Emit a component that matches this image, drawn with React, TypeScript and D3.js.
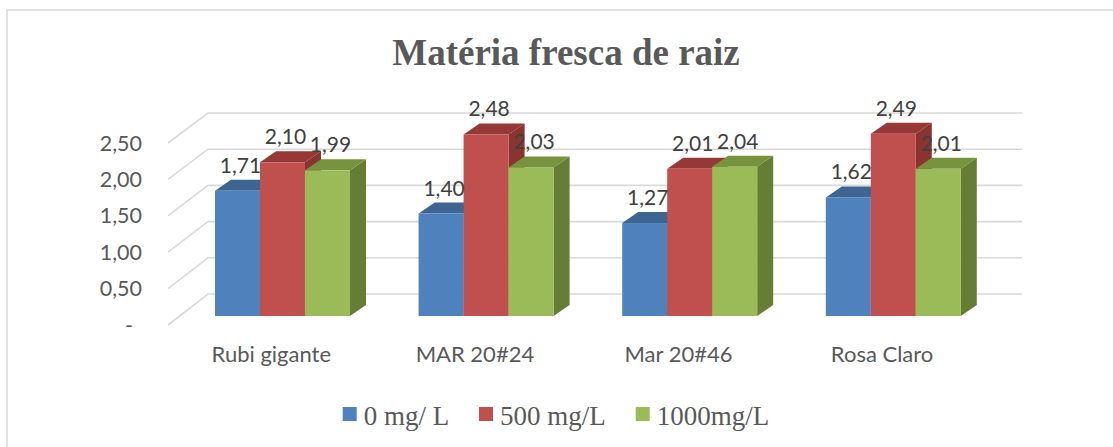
import React from "react";
import * as d3 from "d3";

const categories = ["Rubi gigante", "MAR 20#24", "Mar 20#46", "Rosa Claro"];
const seriesNames = ["0 mg/ L", "500 mg/L", "1000mg/L"];
const values0 = [1.71, 1.4, 1.27, 1.62];
const values500 = [2.1, 2.48, 2.01, 2.49];
const values1000 = [1.99, 2.03, 2.04, 2.01];
const yTicks = [0, 0.5, 1, 1.5, 2, 2.5];
const yTickLabels = ["-", "0,50", "1,00", "1,50", "2,00", "2,50"];

const seriesValues = [values0, values500, values1000];
const colors = [
  { front: "#4F81BD", top: "#3C6592", side: "#375C87" },
  { front: "#C0504D", top: "#953836", side: "#8A3432" },
  { front: "#9BBB59", top: "#77933D", side: "#667D36" },
];

const fmt = (v: number) => v.toFixed(2).replace(".", ",");

export default function App() {
  const W = 1113;
  const H = 447;
  const backX0 = 208, backX1 = 1022;
  const yBack = d3.scaleLinear().domain([0, 2.5]).range([294, 113]);
  const yFront = d3.scaleLinear().domain([0, 2.5]).range([325, 143]);
  const frontX = 168;
  const yBar = d3.scaleLinear().domain([0, 2.5]).range([316, 316 - 2.5 * 73.2]);
  const xCat = d3.scaleBand().domain(categories).range([180.7, 180.7 + 4 * 203.6]);
  const groupW = 135;
  const xSer = d3.scaleBand().domain(seriesNames).range([0, groupW]);
  const dx = 16, dy = -11;
  const labelCat = d3.scaleBand().domain(categories).range([169.5, 169.5 + 4 * 203.6]);

  const textColor = "#595959";
  const sans = "Lato, 'Open Sans', sans-serif";
  const serif = "'Liberation Serif', 'Times New Roman', serif";

  return (
    <svg width={W} height={H} style={{ display: "block", position: "absolute", left: 0, top: 0 }}>
      <rect x={0} y={0} width={W} height={H} fill="#fff" />
      <rect x={7} y={10} width={1130} height={460} fill="#fff" stroke="#d9d9d9" strokeWidth={1.5} />
      <text x={566} y={65} textAnchor="middle" fontFamily={serif} fontWeight="bold" fontSize={37} fill={textColor}>
        Matéria fresca de raiz
      </text>
      {yTicks.map((t, i) => (
        <g key={i}>
          <polyline
            points={`${frontX},${yFront(t)} ${backX0},${yBack(t)} ${backX1},${yBack(t)}`}
            fill="none"
            stroke="#d9d9d9"
            strokeWidth={1.6}
          />
          <text
            x={i === 0 ? 133 : 142}
            y={yFront(t)}
            dy="0.35em"
            textAnchor="end"
            fontFamily={sans}
            fontSize={21.5}
            fill={textColor}
          >
            {yTickLabels[i]}
          </text>
        </g>
      ))}
      {categories.map((c, ci) => {
        const gx = (xCat(c) as number) + (xCat.bandwidth() - groupW) / 2;
        return (
          <g key={c}>
            {seriesNames.map((s, si) => {
              const v = seriesValues[si][ci];
              const x0 = gx + (xSer(s) as number);
              const x1 = x0 + xSer.bandwidth();
              const yt = yBar(v);
              const yb = yBar(0);
              const col = colors[si];
              return (
                <g key={s}>
                  <polygon
                    points={`${x1},${yt} ${x1 + dx},${yt + dy} ${x1 + dx},${yb + dy} ${x1},${yb}`}
                    fill={col.side}
                  />
                  <polygon
                    points={`${x0},${yt} ${x0 + dx},${yt + dy} ${x1 + dx},${yt + dy} ${x1},${yt}`}
                    fill={col.top}
                  />
                  <rect x={x0} y={yt} width={x1 - x0} height={yb - yt} fill={col.front} />
                </g>
              );
            })}
          </g>
        );
      })}
      {categories.map((c, ci) => {
        const gx = (xCat(c) as number) + (xCat.bandwidth() - groupW) / 2;
        return seriesNames.map((s, si) => {
          const v = seriesValues[si][ci];
          const cx = gx + (xSer(s) as number) + xSer.bandwidth() / 2 + 3;
          return (
            <text
              key={c + s}
              x={cx}
              y={yBar(v) - 18}
              textAnchor="middle"
              fontFamily={sans}
              fontSize={21}
              fill="#404040"
            >
              {fmt(v)}
            </text>
          );
        });
      })}
      {categories.map((c) => (
        <text
          key={c}
          x={(labelCat(c) as number) + labelCat.bandwidth() / 2}
          y={362}
          textAnchor="middle"
          fontFamily={sans}
          fontSize={22}
          fill={textColor}
        >
          {c}
        </text>
      ))}
      {seriesNames.map((s, si) => {
        const lx = [342.7, 479, 635.7][si];
        return (
          <g key={s}>
            <rect x={lx} y={407} width={14} height={14} fill={colors[si].front} />
            <text x={lx + 21} y={425} fontFamily={serif} fontSize={27} fill={textColor}>
              {s}
            </text>
          </g>
        );
      })}
    </svg>
  );
}
